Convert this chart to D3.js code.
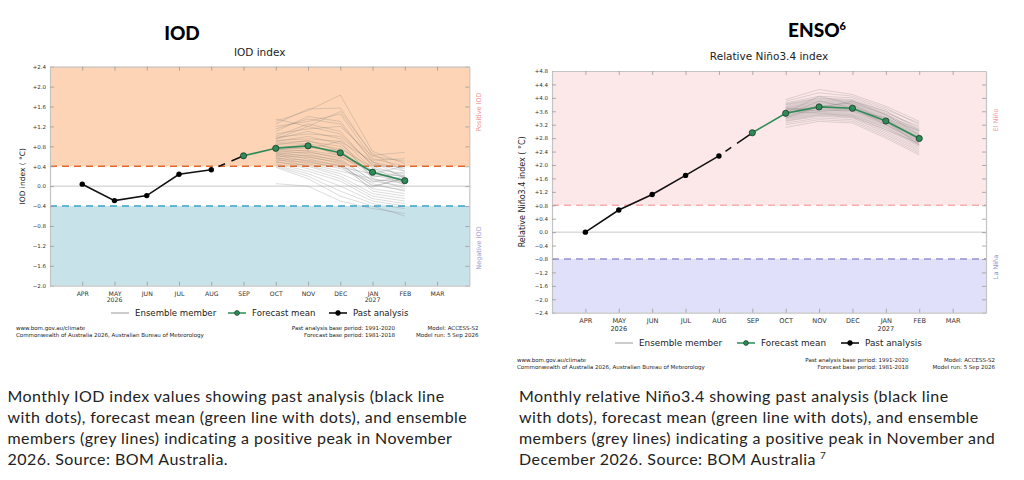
<!DOCTYPE html>
<html>
<head>
<meta charset="utf-8">
<script src="https://cdn.jsdelivr.net/npm/d3@7"></script>
<style>
  body { margin: 0; background: #fff; }
  svg { display: block; }
</style>
</head>
<body>
<script>
// month axis (padding month either side, like the original plot)
const monthLabels = ["APR", "MAY", "JUN", "JUL", "AUG", "SEP", "OCT", "NOV", "DEC", "JAN", "FEB", "MAR"];
const yearLabels = ["", "2026", "", "", "", "", "", "", "", "2027", "", ""];
const xDomain = ["pre"].concat(monthLabels, ["post"]);

const pastMonths = ["APR", "MAY", "JUN", "JUL", "AUG"];
const meanMonths = ["SEP", "OCT", "NOV", "DEC", "JAN", "FEB"];
const ensembleMonths = ["OCT", "NOV", "DEC", "JAN", "FEB"];

// IOD
const iodTicks = [-2.0, -1.6, -1.2, -0.8, -0.4, 0.0, 0.4, 0.8, 1.2, 1.6, 2.0, 2.4];
const iodPast = [0.04, -0.29, -0.19, 0.24, 0.33];
const iodMean = [0.61, 0.76, 0.81, 0.67, 0.28, 0.11];
const iodMembers = [
    [1.30, 1.52, 1.83, 0.70, 0.45],
    [1.25, 1.55, 1.57, 0.62, 0.68],
    [1.20, 1.30, 1.45, 0.55, 0.40],
    [1.10, 1.40, 1.30, 0.48, 0.35],
    [1.05, 1.15, 1.20, 0.60, 0.50],
    [1.00, 1.25, 1.10, 0.40, 0.20],
    [0.98, 1.05, 1.00, 0.45, 0.30],
    [0.95, 1.10, 0.95, 0.35, 0.25],
    [0.92, 0.95, 0.90, 0.50, 0.15],
    [0.90, 1.00, 0.85, 0.30, 0.10],
    [0.88, 0.90, 0.80, 0.25, 0.40],
    [0.85, 0.85, 0.75, 0.38, 0.05],
    [0.83, 0.92, 0.70, 0.20, 0.22],
    [0.80, 0.80, 0.65, 0.28, 0.12],
    [0.78, 0.75, 0.90, 0.15, -0.05],
    [0.76, 0.85, 0.60, 0.32, 0.18],
    [0.75, 0.70, 0.55, 0.10, 0.00],
    [0.73, 0.78, 0.72, 0.22, 0.08],
    [0.72, 0.65, 0.50, 0.05, -0.10],
    [0.70, 0.72, 0.62, 0.18, 0.28],
    [0.68, 0.60, 0.45, 0.00, 0.15],
    [0.66, 0.68, 0.58, 0.30, 0.02],
    [0.65, 0.55, 0.40, -0.05, -0.15],
    [0.63, 0.62, 0.52, 0.12, 0.10],
    [0.62, 0.50, 0.35, 0.08, 0.20],
    [0.60, 0.58, 0.48, -0.10, -0.20],
    [0.58, 0.45, 0.30, 0.15, 0.05],
    [0.56, 0.52, 0.42, 0.02, -0.08],
    [0.55, 0.40, 0.20, -0.15, -0.25],
    [0.52, 0.48, 0.38, 0.25, 0.12],
    [0.50, 0.35, 0.15, -0.20, -0.30],
    [0.48, 0.42, 0.25, -0.02, 0.18],
    [0.45, 0.30, 0.10, -0.25, -0.35],
    [0.42, 0.25, 0.00, -0.30, -0.40],
    [0.40, 0.20, -0.10, -0.35, -0.45],
    [0.38, 0.15, -0.20, -0.40, -0.60],
    [0.05, 0.00, -0.30, -0.45, -0.55],
    [1.35, 1.20, 1.50, 0.65, 0.30],
    [1.15, 1.35, 1.25, 0.52, 0.55],
    [0.95, 1.20, 1.05, 0.42, 0.38]
];

// ENSO (relative Nino3.4)
const ensoTicks = [-2.4, -2.0, -1.6, -1.2, -0.8, -0.4, 0.0, 0.4, 0.8, 1.2, 1.6, 2.0, 2.4, 2.8, 3.2, 3.6, 4.0, 4.4, 4.8];
const ensoPast = [0.00, 0.66, 1.12, 1.69, 2.27];
const ensoMean = [2.96, 3.54, 3.73, 3.69, 3.31, 2.79];
const ensoMembers = [
    [3.95, 4.25, 4.10, 3.75, 3.30],
    [3.90, 4.15, 4.05, 3.70, 3.20],
    [3.85, 4.05, 4.00, 3.65, 3.25],
    [3.82, 4.00, 3.95, 3.60, 3.10],
    [3.80, 3.98, 3.92, 3.55, 3.15],
    [3.78, 3.95, 3.90, 3.50, 3.05],
    [3.75, 3.92, 3.88, 3.52, 3.00],
    [3.72, 3.90, 3.85, 3.48, 2.95],
    [3.70, 3.88, 3.82, 3.45, 3.02],
    [3.68, 3.85, 3.80, 3.42, 2.92],
    [3.66, 3.83, 3.78, 3.40, 2.90],
    [3.64, 3.80, 3.76, 3.38, 2.88],
    [3.62, 3.78, 3.74, 3.36, 2.85],
    [3.60, 3.76, 3.72, 3.35, 2.83],
    [3.58, 3.75, 3.70, 3.33, 2.82],
    [3.56, 3.73, 3.68, 3.31, 2.80],
    [3.55, 3.72, 3.66, 3.30, 2.78],
    [3.54, 3.70, 3.65, 3.28, 2.76],
    [3.52, 3.68, 3.63, 3.26, 2.75],
    [3.50, 3.66, 3.62, 3.25, 2.73],
    [3.48, 3.65, 3.60, 3.22, 2.70],
    [3.46, 3.63, 3.58, 3.20, 2.68],
    [3.45, 3.60, 3.55, 3.18, 2.65],
    [3.42, 3.58, 3.52, 3.15, 2.62],
    [3.40, 3.55, 3.50, 3.12, 2.60],
    [3.38, 3.52, 3.48, 3.10, 2.58],
    [3.35, 3.50, 3.45, 3.05, 2.55],
    [3.32, 3.48, 3.42, 3.00, 2.50],
    [3.30, 3.45, 3.40, 2.95, 2.45],
    [3.25, 3.40, 3.35, 2.90, 2.40],
    [3.20, 3.35, 3.30, 2.85, 2.35],
    [3.12, 3.30, 3.25, 2.80, 2.30],
    [3.50, 3.90, 3.70, 3.20, 2.70],
    [3.70, 3.60, 3.65, 3.40, 3.00],
    [3.40, 3.75, 3.85, 3.50, 2.90],
    [3.60, 3.55, 3.45, 3.05, 2.65],
    [3.55, 4.05, 3.80, 3.30, 2.60],
    [3.65, 3.70, 3.90, 3.60, 3.05]
];

const iodCaption = [
    "Monthly IOD index values showing past analysis (black line",
    "with dots), forecast mean (green line with dots), and ensemble",
    "members (grey lines) indicating a positive peak in November",
    "2026. Source: BOM Australia."
];
const ensoCaption = [
    "Monthly relative Niño3.4 showing past analysis (black line",
    "with dots), forecast mean (green line with dots), and ensemble",
    "members (grey lines) indicating a positive peak in November and",
    "December 2026. Source: BOM Australia"
];

const svg = d3.select("body").append("svg")
    .attr("width", 1024)
    .attr("height", 480);

const mpl = "DejaVu Sans, sans-serif";
const green = "#2e8b57";

function fmtTick(d) {
    if (Math.abs(d) < 1e-9) return "0.0";
    return (d > 0 ? "+" : "\u2212") + Math.abs(d).toFixed(1);
}

function drawPanel(c) {
    const x = d3.scalePoint().domain(xDomain).range([c.left, c.right]);
    const y = d3.scaleLinear().domain(c.yDomain).range([c.bottom, c.top]);
    const w = c.right - c.left;

    // titles
    const t = svg.append("text")
        .attr("x", c.titleX).attr("y", c.titleY)
        .attr("text-anchor", "middle")
        .style("font-family", "Lato, sans-serif")
        .style("font-weight", 900)
        .style("font-size", "19px")
        .attr("fill", "#000")
        .text(c.title);
    if (c.titleSup) {
        t.append("tspan").attr("dy", -7).style("font-size", "11px").text(c.titleSup);
    }
    svg.append("text")
        .attr("x", (c.left + c.right) / 2).attr("y", c.subY)
        .attr("text-anchor", "middle")
        .style("font-family", mpl).style("font-size", c.subSize + "px")
        .attr("fill", "#222")
        .text(c.subtitle);

    // shaded regions
    svg.append("rect")
        .attr("x", c.left).attr("width", w)
        .attr("y", y(c.yDomain[1])).attr("height", y(c.upper) - y(c.yDomain[1]))
        .attr("fill", c.upperFill);
    svg.append("rect")
        .attr("x", c.left).attr("width", w)
        .attr("y", y(c.lower)).attr("height", y(c.yDomain[0]) - y(c.lower))
        .attr("fill", c.lowerFill);

    // zero line
    svg.append("line")
        .attr("x1", c.left).attr("x2", c.right)
        .attr("y1", y(0)).attr("y2", y(0))
        .attr("stroke", "#c8c8c8").attr("stroke-width", 1);

    // threshold lines
    [[c.upper, c.upperLine], [c.lower, c.lowerLine]].forEach(([v, col]) => {
        svg.append("line")
            .attr("x1", c.left).attr("x2", c.right)
            .attr("y1", y(v)).attr("y2", y(v))
            .attr("stroke", col).attr("stroke-width", 1.4)
            .attr("stroke-dasharray", "7,5");
    });

    // axes, ticks pointing inward
    const axisStyle = g => {
        g.select(".domain").attr("stroke", "#c4c4c4").attr("stroke-width", 1.2);
        g.selectAll(".tick line").attr("stroke", "#9a9a9a").attr("stroke-width", 0.8);
        g.selectAll("text").style("font-family", mpl).attr("fill", "#333");
    };
    svg.append("g")
        .attr("transform", `translate(${c.left},0)`)
        .call(d3.axisLeft(y).tickValues(c.yTicks).tickFormat(fmtTick).tickSize(-4).tickPadding(4).tickSizeOuter(0))
        .call(axisStyle)
        .call(g => g.selectAll("text").style("font-size", c.yTickSize + "px"));
    svg.append("g")
        .attr("transform", `translate(${c.right},0)`)
        .call(d3.axisRight(y).tickValues(c.yTicks).tickFormat("").tickSize(-4).tickSizeOuter(0))
        .call(axisStyle);
    svg.append("g")
        .attr("transform", `translate(0,${c.top})`)
        .call(d3.axisTop(x).tickValues(monthLabels).tickFormat("").tickSize(-4).tickSizeOuter(0))
        .call(axisStyle);
    svg.append("g")
        .attr("transform", `translate(0,${c.bottom})`)
        .call(d3.axisBottom(x).tickValues(monthLabels).tickSize(-4).tickPadding(6).tickSizeOuter(0))
        .call(axisStyle)
        .call(g => g.selectAll("text").style("font-size", c.monthSize + "px"));
    svg.selectAll(null).data(monthLabels.map((m, i) => ({m, yr: yearLabels[i]})).filter(d => d.yr))
        .enter().append("text")
        .attr("x", d => x(d.m)).attr("y", c.yearY)
        .attr("text-anchor", "middle")
        .style("font-family", mpl).style("font-size", c.monthSize + "px")
        .attr("fill", "#333")
        .text(d => d.yr);

    // y label
    svg.append("text")
        .attr("transform", `translate(${c.yLabelX},${(c.top + c.bottom) / 2}) rotate(-90)`)
        .attr("text-anchor", "middle")
        .style("font-family", mpl).style("font-size", c.yLabelSize + "px")
        .attr("fill", "#222")
        .text(c.yLabel);

    // side labels
    [[c.upperText, c.upperTextY, c.upperTextCol], [c.lowerText, c.lowerTextY, c.lowerTextCol]].forEach(([txt, ty, col]) => {
        svg.append("text")
            .attr("transform", `translate(${c.right + 12},${ty}) rotate(-90)`)
            .attr("text-anchor", "middle")
            .style("font-family", mpl).style("font-size", "6.5px")
            .attr("fill", col)
            .text(txt);
    });

    // ensemble members
    const ensLine = d3.line().x((d, i) => x(ensembleMonths[i])).y(d => y(d));
    svg.append("g").selectAll("path")
        .data(c.members)
        .enter().append("path")
        .attr("d", ensLine)
        .attr("fill", "none")
        .attr("stroke", "#777")
        .attr("stroke-opacity", c.ensOpacity)
        .attr("stroke-width", 0.8);

    // past analysis
    const past = c.past.map((v, i) => ({m: pastMonths[i], v}));
    const mean = c.mean.map((v, i) => ({m: meanMonths[i], v}));
    const pl = d3.line().x(d => x(d.m)).y(d => y(d.v));

    svg.append("path")
        .attr("d", pl([past[past.length - 1], mean[0]]))
        .attr("fill", "none").attr("stroke", "#111").attr("stroke-width", 1.5)
        .attr("stroke-dasharray", "0,8,7,7,40");
    svg.append("path")
        .attr("d", pl(past))
        .attr("fill", "none").attr("stroke", "#111").attr("stroke-width", 1.6);
    svg.append("g").selectAll("circle")
        .data(past).enter().append("circle")
        .attr("cx", d => x(d.m)).attr("cy", d => y(d.v))
        .attr("r", 2.7).attr("fill", "#000");

    // forecast mean
    svg.append("path")
        .attr("d", pl(mean))
        .attr("fill", "none").attr("stroke", green).attr("stroke-width", 1.6);
    svg.append("g").selectAll("circle")
        .data(mean).enter().append("circle")
        .attr("cx", d => x(d.m)).attr("cy", d => y(d.v))
        .attr("r", 3.1).attr("fill", green)
        .attr("stroke", "#17392a").attr("stroke-width", 0.8);

    // legend
    const lg = svg.append("g").attr("transform", `translate(0,${c.legendY})`);
    const items = [
        {name: "Ensemble member", col: "#aaa", dot: null},
        {name: "Forecast mean", col: green, dot: green},
        {name: "Past analysis", col: "#000", dot: "#000"}
    ];
    items.forEach((it, i) => {
        const lx = c.legendX[i];
        lg.append("line")
            .attr("x1", lx).attr("x2", lx + 18)
            .attr("stroke", it.col).attr("stroke-width", it.dot ? 1.5 : 1.2);
        if (it.dot) {
            lg.append("circle").attr("cx", lx + 9).attr("r", 2.4)
                .attr("fill", it.dot).attr("stroke", it.dot === green ? "#17392a" : "#000").attr("stroke-width", 0.7);
        }
        lg.append("text")
            .attr("x", lx + 24).attr("y", 3)
            .style("font-family", mpl).style("font-size", c.legendSize + "px")
            .attr("fill", "#222")
            .text(it.name);
    });

    // footer
    const ft = svg.append("g")
        .style("font-family", mpl).style("font-size", "5.5px").attr("fill", "#222");
    ft.append("text").attr("x", c.footLeft).attr("y", c.footY).text("www.bom.gov.au/climate");
    ft.append("text").attr("x", c.footLeft).attr("y", c.footY + 6.5)
        .text("Commonwealth of Australia 2026, Australian Bureau of Meteorology");
    ft.append("text").attr("x", c.footMid).attr("y", c.footY).attr("text-anchor", "end")
        .text("Past analysis base period: 1991-2020");
    ft.append("text").attr("x", c.footMid).attr("y", c.footY + 6.5).attr("text-anchor", "end")
        .text("Forecast base period: 1981-2018");
    ft.append("text").attr("x", c.footRight).attr("y", c.footY).attr("text-anchor", "end")
        .text("Model: ACCESS-S2");
    ft.append("text").attr("x", c.footRight).attr("y", c.footY + 6.5).attr("text-anchor", "end")
        .text("Model run: 5 Sep 2026");

    // caption
    const cap = svg.append("text")
        .style("font-family", "Lato, sans-serif").style("font-size", "16px")
        .style("letter-spacing", "0.45px")
        .attr("fill", "#222");
    c.caption.forEach((line, i) => {
        cap.append("tspan").attr("x", c.capX).attr("y", 401.5 + i * 21.2).text(line);
        if (i === c.caption.length - 1 && c.capSup) {
            cap.append("tspan").attr("dx", 4).attr("dy", -6).style("font-size", "10px").text(c.capSup);
        }
    });
}

drawPanel({
    left: 50, right: 469.3, top: 66.7, bottom: 285.7,
    yDomain: [-2.0, 2.4], yTicks: iodTicks,
    title: "IOD", titleX: 182, titleY: 40,
    subtitle: "IOD index", subY: 56, subSize: 10.5,
    upper: 0.4, lower: -0.4,
    upperFill: "#fdd5b6", lowerFill: "#c8e2ea",
    upperLine: "#e0692a", lowerLine: "#3aa4c6",
    upperText: "Positive IOD", upperTextY: 112, upperTextCol: "#f29090",
    lowerText: "Negative IOD", lowerTextY: 248, lowerTextCol: "#9c9cd2",
    yTickSize: 5.5, monthSize: 6.2, yearY: 301.5,
    yLabel: "IOD index ( \u00B0C)", yLabelX: 25, yLabelSize: 7.5,
    members: iodMembers, past: iodPast, mean: iodMean, ensOpacity: 0.33,
    legendY: 313, legendX: [111, 228, 329], legendSize: 8.6,
    footLeft: 16, footMid: 395, footRight: 478.5, footY: 330,
    caption: iodCaption, capX: 7.5
});

drawPanel({
    left: 552, right: 986, top: 71, bottom: 312.7,
    yDomain: [-2.4, 4.8], yTicks: ensoTicks,
    title: "ENSO", titleSup: "6", titleX: 817, titleY: 36.7,
    subtitle: "Relative Niño3.4 index", subY: 59.5, subSize: 10.5,
    upper: 0.8, lower: -0.8,
    upperFill: "#fde8e9", lowerFill: "#e0e0fa",
    upperLine: "#f6acac", lowerLine: "#9393cf",
    upperText: "El Niño", upperTextY: 120, upperTextCol: "#f49a9a",
    lowerText: "La Niña", lowerTextY: 267, lowerTextCol: "#9393cf",
    yTickSize: 5.5, monthSize: 6.6, yearY: 330.5,
    yLabel: "Relative Niño3.4 index ( \u00B0C)", yLabelX: 525, yLabelSize: 8,
    members: ensoMembers, past: ensoPast, mean: ensoMean, ensOpacity: 0.3,
    legendY: 343, legendX: [615, 737, 841], legendSize: 8.8,
    footLeft: 517, footMid: 908.5, footRight: 995, footY: 362,
    caption: ensoCaption, capSup: "7", capX: 519
});
</script>
</body>
</html>
